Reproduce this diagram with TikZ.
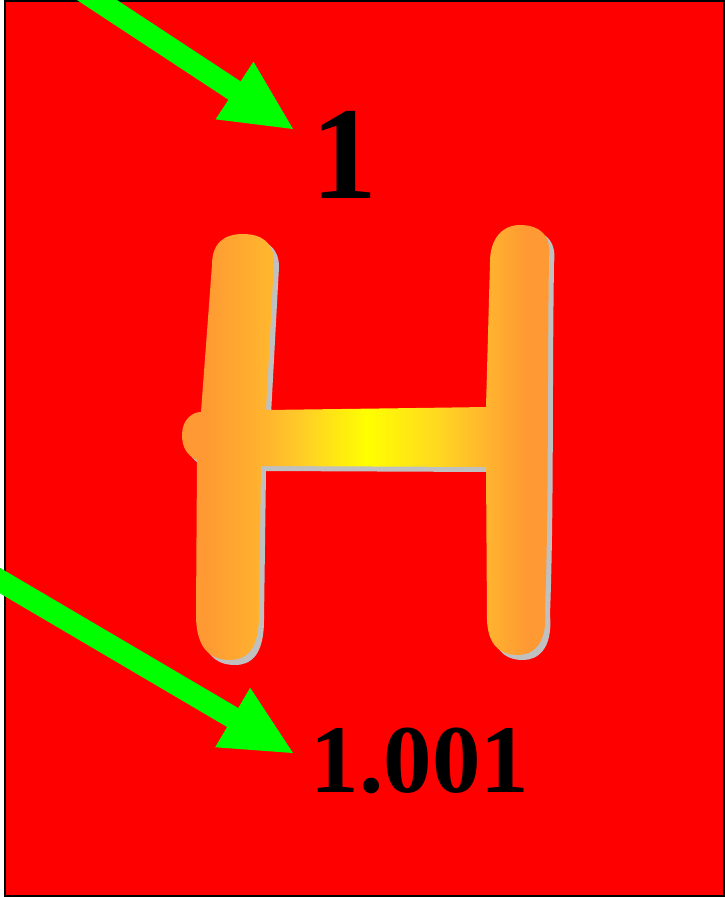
\documentclass[tikz,border=0pt]{standalone}
\usepackage{fontspec}
\setmainfont{Liberation Serif}
\usetikzlibrary{calc}
\definecolor{cardred}{HTML}{FF0000}
\definecolor{arrowgreen}{HTML}{00FF00}
\definecolor{shadowgray}{HTML}{C0C0C0}
\definecolor{horange}{HTML}{FF9933}
\definecolor{hlight}{HTML}{FFB52E}
\definecolor{hmid}{HTML}{FFCC28}
\definecolor{hmidb}{HTML}{FFD820}
\definecolor{hyellow}{HTML}{FFFF00}
\pgfdeclarehorizontalshading{hshade}{100bp}{color(0bp)=(horange); color(25bp)=(horange); color(28bp)=(horange); color(36.5bp)=(hlight); color(41bp)=(hmid); color(50bp)=(hyellow); color(59.5bp)=(hmidb); color(66bp)=(hlight); color(71.5bp)=(horange); color(75bp)=(horange); color(100bp)=(horange)}
\tikzset{
  hshape/.style={insert path={
    (212,265) .. controls (212,242) and (225,234) .. (243,234)
    .. controls (262,234) and (274,243) .. (274,262)
    -- (266,410)
    .. controls (340,409) and (420,408) .. (486,407)
    -- (490,262)
    .. controls (490,238) and (503,225) .. (520,225)
    .. controls (540,225) and (552,236) .. (549,258)
    .. controls (547,400) and (549,500) .. (545,610)
    .. controls (548,645) and (532,655) .. (518,655)
    .. controls (500,655) and (488,645) .. (487,620)
    -- (486,467)
    -- (261,466)
    -- (259,615)
    .. controls (259,650) and (246,660) .. (230,660)
    .. controls (210,660) and (196,648) .. (196,615)
    -- (197,460)
    .. controls (186,455) and (182,446) .. (182,435)
    .. controls (182,420) and (192,412) .. (201,412)
    -- cycle}},
  shaft/.style={draw=arrowgreen, line width=22pt, line cap=butt},
  headtri/.style={fill=arrowgreen},
  numlabel/.style={text=black, inner sep=0pt, anchor=base}
}
\begin{document}
\begin{tikzpicture}[x=1pt,y=-1pt]
\useasboundingbox (0,0) rectangle (725,897);
\clip (0,0) rectangle (725,897);
\fill[white] (0,0) rectangle (725,897);
% card
\fill[cardred] (5,0.75) rectangle (724,896);
\draw[black, line width=1.5pt] (5,0.75) rectangle (724,896);
% H letter: shadow then shaded body
\fill[shadowgray, shift={(5,5)}, hshape];
\shade[shading=hshade, hshape];
% labels
\node[numlabel, font=\fontsize{132}{140}\selectfont\bfseries] (num) at (344.5,198) {1};
\node[numlabel, font=\fontsize{97}{108}\selectfont\bfseries] (mass) at (420,792) {1.001};
% arrows
\coordinate (s1) at (30,-44);
\coordinate (t1) at (293,129);
\coordinate (s2) at (-30,563);
\coordinate (t2) at (293,753);
\foreach \s/\t in {s1/t1, s2/t2} {
  \coordinate (b) at ($(\t)!70pt!(\s)$);
  \draw[shaft] (\s) -- ($(\t)!68pt!(\s)$);
  \fill[headtri] (\t) -- ($(b)!34.5pt!90:(\t)$) -- ($(b)!34.5pt!-90:(\t)$) -- cycle;
}
\end{tikzpicture}
\end{document}
